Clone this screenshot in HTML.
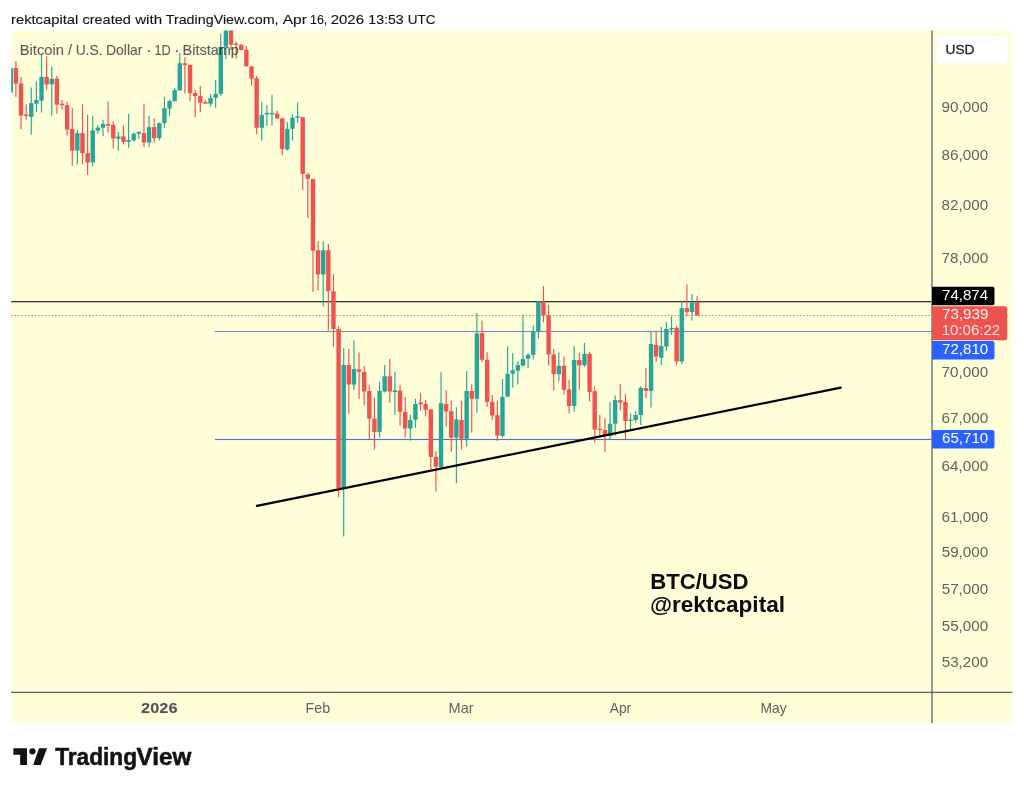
<!DOCTYPE html>
<html lang="en">
<head>
<meta charset="utf-8">
<title>BTC/USD chart - rektcapital - TradingView</title>
<style>
html,body{margin:0;padding:0;background:#fff;}
body{width:1024px;height:791px;position:relative;overflow:hidden;font-family:"Liberation Sans",sans-serif;}
#snapshot{position:absolute;left:0;top:0;width:1024px;height:791px;}
svg{position:absolute;left:0;top:0;display:block;}
text{font-family:"Liberation Sans",sans-serif;}
</style>
</head>
<body>
<div id="snapshot">
<svg width="1024" height="791" viewBox="0 0 1024 791">
<defs>
<clipPath id="pane"><rect x="11.2" y="30.5" width="920.2" height="661.2"/></clipPath>
</defs>
<rect x="0" y="0" width="1024" height="791" fill="#ffffff"/>
<!-- header -->
<text y="24.4" font-size="13.6" fill="#131313" stroke="#131313" stroke-width="0.12"><tspan x="11.02" textLength="67.27" lengthAdjust="spacingAndGlyphs">rektcapital</tspan> <tspan x="82.43" textLength="48.40" lengthAdjust="spacingAndGlyphs">created</tspan> <tspan x="135.17" textLength="26.91" lengthAdjust="spacingAndGlyphs">with</tspan> <tspan x="165.68" textLength="112.88" lengthAdjust="spacingAndGlyphs">TradingView.com,</tspan> <tspan x="282.67" textLength="24.19" lengthAdjust="spacingAndGlyphs">Apr</tspan> <tspan x="310.05" textLength="17.26" lengthAdjust="spacingAndGlyphs">16,</tspan> <tspan x="330.75" textLength="33.21" lengthAdjust="spacingAndGlyphs">2026</tspan> <tspan x="368.32" textLength="35.40" lengthAdjust="spacingAndGlyphs">13:53</tspan> <tspan x="407.65" textLength="27.86" lengthAdjust="spacingAndGlyphs">UTC</tspan></text>
<!-- chart background -->
<rect x="11.2" y="30.5" width="1001.3" height="692.6" fill="#fefed9"/>

<g id="hlines">
<rect x="11.2" y="301.15" width="920.2" height="1.13" fill="#151513"/>
<line x1="11.3" y1="315.45" x2="931" y2="315.45" stroke="#e35a55" stroke-width="1.13" stroke-dasharray="1.2 2.185"/>
<rect x="215" y="330.95" width="716.4" height="1.13" fill="#7788c2"/>
<rect x="215" y="438.93" width="716.4" height="1.13" fill="#4f6fe0"/>
</g>
<g id="candles" clip-path="url(#pane)">
<rect x="8.58" y="68.10" width="4.4" height="24.40" fill="#26a69a"/>
<rect x="15.33" y="61.00" width="1.15" height="35.90" fill="#ef5350"/>
<rect x="13.70" y="68.10" width="4.4" height="15.65" fill="#ef5350"/>
<rect x="20.45" y="76.90" width="1.15" height="52.50" fill="#ef5350"/>
<rect x="18.82" y="83.50" width="4.4" height="32.10" fill="#ef5350"/>
<rect x="25.57" y="104.40" width="1.15" height="15.35" fill="#ef5350"/>
<rect x="23.94" y="114.40" width="4.4" height="1.60" fill="#ef5350"/>
<rect x="30.69" y="87.50" width="1.15" height="47.25" fill="#26a69a"/>
<rect x="29.07" y="103.10" width="4.4" height="13.80" fill="#26a69a"/>
<rect x="35.81" y="81.25" width="1.15" height="30.65" fill="#26a69a"/>
<rect x="34.19" y="100.00" width="4.4" height="3.75" fill="#26a69a"/>
<rect x="40.93" y="54.50" width="1.15" height="58.00" fill="#26a69a"/>
<rect x="39.31" y="76.90" width="4.4" height="23.70" fill="#26a69a"/>
<rect x="46.06" y="56.25" width="1.15" height="33.50" fill="#ef5350"/>
<rect x="44.43" y="76.90" width="4.4" height="7.50" fill="#ef5350"/>
<rect x="51.18" y="66.60" width="1.15" height="49.30" fill="#26a69a"/>
<rect x="49.55" y="78.75" width="4.4" height="5.65" fill="#26a69a"/>
<rect x="56.30" y="76.00" width="1.15" height="37.75" fill="#ef5350"/>
<rect x="54.68" y="78.50" width="4.4" height="26.10" fill="#ef5350"/>
<rect x="61.42" y="100.00" width="1.15" height="9.75" fill="#ef5350"/>
<rect x="59.80" y="103.75" width="4.4" height="1.45" fill="#ef5350"/>
<rect x="66.55" y="101.90" width="1.15" height="33.70" fill="#ef5350"/>
<rect x="64.92" y="105.00" width="4.4" height="24.60" fill="#ef5350"/>
<rect x="71.67" y="107.75" width="1.15" height="58.15" fill="#ef5350"/>
<rect x="70.04" y="129.00" width="4.4" height="21.60" fill="#ef5350"/>
<rect x="76.79" y="129.60" width="1.15" height="34.80" fill="#26a69a"/>
<rect x="75.16" y="133.10" width="4.4" height="17.50" fill="#26a69a"/>
<rect x="81.91" y="104.00" width="1.15" height="60.40" fill="#ef5350"/>
<rect x="80.29" y="133.10" width="4.4" height="20.00" fill="#ef5350"/>
<rect x="87.03" y="114.70" width="1.15" height="60.30" fill="#ef5350"/>
<rect x="85.41" y="153.10" width="4.4" height="9.40" fill="#ef5350"/>
<rect x="92.16" y="115.70" width="1.15" height="50.55" fill="#26a69a"/>
<rect x="90.53" y="130.30" width="4.4" height="32.20" fill="#26a69a"/>
<rect x="97.28" y="125.00" width="1.15" height="9.00" fill="#26a69a"/>
<rect x="95.65" y="127.50" width="4.4" height="3.10" fill="#26a69a"/>
<rect x="102.40" y="119.75" width="1.15" height="16.50" fill="#26a69a"/>
<rect x="100.77" y="124.00" width="4.4" height="3.75" fill="#26a69a"/>
<rect x="107.52" y="101.50" width="1.15" height="31.25" fill="#ef5350"/>
<rect x="105.90" y="124.00" width="4.4" height="1.60" fill="#ef5350"/>
<rect x="112.64" y="121.25" width="1.15" height="27.25" fill="#ef5350"/>
<rect x="111.02" y="124.90" width="4.4" height="13.60" fill="#ef5350"/>
<rect x="117.77" y="132.00" width="1.15" height="18.60" fill="#26a69a"/>
<rect x="116.14" y="136.50" width="4.4" height="2.25" fill="#26a69a"/>
<rect x="122.89" y="125.10" width="1.15" height="19.40" fill="#ef5350"/>
<rect x="121.26" y="136.40" width="4.4" height="5.50" fill="#ef5350"/>
<rect x="128.01" y="114.00" width="1.15" height="33.75" fill="#26a69a"/>
<rect x="126.38" y="140.00" width="4.4" height="1.90" fill="#26a69a"/>
<rect x="133.13" y="132.50" width="1.15" height="8.90" fill="#26a69a"/>
<rect x="131.51" y="133.75" width="4.4" height="6.55" fill="#26a69a"/>
<rect x="138.25" y="131.25" width="1.15" height="7.50" fill="#26a69a"/>
<rect x="136.63" y="131.90" width="4.4" height="1.85" fill="#26a69a"/>
<rect x="143.38" y="104.00" width="1.15" height="42.90" fill="#ef5350"/>
<rect x="141.75" y="133.10" width="4.4" height="9.40" fill="#ef5350"/>
<rect x="148.50" y="115.60" width="1.15" height="31.30" fill="#26a69a"/>
<rect x="146.87" y="127.10" width="4.4" height="15.40" fill="#26a69a"/>
<rect x="153.62" y="118.10" width="1.15" height="24.40" fill="#ef5350"/>
<rect x="151.99" y="127.10" width="4.4" height="11.00" fill="#ef5350"/>
<rect x="158.74" y="122.50" width="1.15" height="17.75" fill="#26a69a"/>
<rect x="157.12" y="123.10" width="4.4" height="15.00" fill="#26a69a"/>
<rect x="163.86" y="96.90" width="1.15" height="30.85" fill="#26a69a"/>
<rect x="162.24" y="108.10" width="4.4" height="15.00" fill="#26a69a"/>
<rect x="168.99" y="99.75" width="1.15" height="16.25" fill="#26a69a"/>
<rect x="167.36" y="101.00" width="4.4" height="7.50" fill="#26a69a"/>
<rect x="174.11" y="87.90" width="1.15" height="13.35" fill="#26a69a"/>
<rect x="172.48" y="90.00" width="4.4" height="11.25" fill="#26a69a"/>
<rect x="179.23" y="53.00" width="1.15" height="37.50" fill="#26a69a"/>
<rect x="177.60" y="63.25" width="4.4" height="27.25" fill="#26a69a"/>
<rect x="184.35" y="57.00" width="1.15" height="36.40" fill="#ef5350"/>
<rect x="182.73" y="63.25" width="4.4" height="1.85" fill="#ef5350"/>
<rect x="189.47" y="64.90" width="1.15" height="36.50" fill="#ef5350"/>
<rect x="187.85" y="64.90" width="4.4" height="28.30" fill="#ef5350"/>
<rect x="194.59" y="89.80" width="1.15" height="27.30" fill="#ef5350"/>
<rect x="192.97" y="93.00" width="4.4" height="3.10" fill="#ef5350"/>
<rect x="199.72" y="85.80" width="1.15" height="26.20" fill="#ef5350"/>
<rect x="198.09" y="96.10" width="4.4" height="6.50" fill="#ef5350"/>
<rect x="204.84" y="100.10" width="1.15" height="3.60" fill="#ef5350"/>
<rect x="203.21" y="102.10" width="4.4" height="1.60" fill="#ef5350"/>
<rect x="209.96" y="94.10" width="1.15" height="12.40" fill="#26a69a"/>
<rect x="208.34" y="98.00" width="4.4" height="5.70" fill="#26a69a"/>
<rect x="215.08" y="80.00" width="1.15" height="27.70" fill="#26a69a"/>
<rect x="213.46" y="93.70" width="4.4" height="4.05" fill="#26a69a"/>
<rect x="220.21" y="34.10" width="1.15" height="62.10" fill="#26a69a"/>
<rect x="218.58" y="47.00" width="4.4" height="46.80" fill="#26a69a"/>
<rect x="225.33" y="20.00" width="1.15" height="38.80" fill="#26a69a"/>
<rect x="223.70" y="20.00" width="4.4" height="26.60" fill="#26a69a"/>
<rect x="230.45" y="20.00" width="1.15" height="30.00" fill="#ef5350"/>
<rect x="228.82" y="20.00" width="4.4" height="24.60" fill="#ef5350"/>
<rect x="235.57" y="41.90" width="1.15" height="16.90" fill="#ef5350"/>
<rect x="233.95" y="43.70" width="4.4" height="1.20" fill="#ef5350"/>
<rect x="240.69" y="44.00" width="1.15" height="6.50" fill="#ef5350"/>
<rect x="239.07" y="44.80" width="4.4" height="5.20" fill="#ef5350"/>
<rect x="245.82" y="45.90" width="1.15" height="20.40" fill="#ef5350"/>
<rect x="244.19" y="49.75" width="4.4" height="16.55" fill="#ef5350"/>
<rect x="250.94" y="66.30" width="1.15" height="19.20" fill="#ef5350"/>
<rect x="249.31" y="66.30" width="4.4" height="12.30" fill="#ef5350"/>
<rect x="256.06" y="75.90" width="1.15" height="58.10" fill="#ef5350"/>
<rect x="254.43" y="78.20" width="4.4" height="49.55" fill="#ef5350"/>
<rect x="261.18" y="102.00" width="1.15" height="38.60" fill="#26a69a"/>
<rect x="259.56" y="115.00" width="4.4" height="12.75" fill="#26a69a"/>
<rect x="266.30" y="105.00" width="1.15" height="21.00" fill="#26a69a"/>
<rect x="264.68" y="112.90" width="4.4" height="1.50" fill="#26a69a"/>
<rect x="271.43" y="94.80" width="1.15" height="30.80" fill="#26a69a"/>
<rect x="269.80" y="112.90" width="4.4" height="1.50" fill="#26a69a"/>
<rect x="276.55" y="110.50" width="1.15" height="8.00" fill="#ef5350"/>
<rect x="274.92" y="113.70" width="4.4" height="4.80" fill="#ef5350"/>
<rect x="281.67" y="117.20" width="1.15" height="38.20" fill="#ef5350"/>
<rect x="280.04" y="118.50" width="4.4" height="30.50" fill="#ef5350"/>
<rect x="286.79" y="122.30" width="1.15" height="28.30" fill="#26a69a"/>
<rect x="285.17" y="128.75" width="4.4" height="20.65" fill="#26a69a"/>
<rect x="291.91" y="114.40" width="1.15" height="26.20" fill="#26a69a"/>
<rect x="290.29" y="117.75" width="4.4" height="11.00" fill="#26a69a"/>
<rect x="297.03" y="102.50" width="1.15" height="20.25" fill="#26a69a"/>
<rect x="295.41" y="116.25" width="4.4" height="1.50" fill="#26a69a"/>
<rect x="302.16" y="117.10" width="1.15" height="72.65" fill="#ef5350"/>
<rect x="300.53" y="117.10" width="4.4" height="56.90" fill="#ef5350"/>
<rect x="307.28" y="173.10" width="1.15" height="45.00" fill="#ef5350"/>
<rect x="305.65" y="174.40" width="4.4" height="4.35" fill="#ef5350"/>
<rect x="312.40" y="179.00" width="1.15" height="112.90" fill="#ef5350"/>
<rect x="310.78" y="179.00" width="4.4" height="71.70" fill="#ef5350"/>
<rect x="317.52" y="241.00" width="1.15" height="49.60" fill="#ef5350"/>
<rect x="315.90" y="250.25" width="4.4" height="24.15" fill="#ef5350"/>
<rect x="322.64" y="241.40" width="1.15" height="65.10" fill="#26a69a"/>
<rect x="321.02" y="250.25" width="4.4" height="24.15" fill="#26a69a"/>
<rect x="327.77" y="243.75" width="1.15" height="86.65" fill="#ef5350"/>
<rect x="326.14" y="250.25" width="4.4" height="41.00" fill="#ef5350"/>
<rect x="332.89" y="274.10" width="1.15" height="72.80" fill="#ef5350"/>
<rect x="331.26" y="291.25" width="4.4" height="37.75" fill="#ef5350"/>
<rect x="338.01" y="326.10" width="1.15" height="171.10" fill="#ef5350"/>
<rect x="336.39" y="329.00" width="4.4" height="159.10" fill="#ef5350"/>
<rect x="343.13" y="348.10" width="1.15" height="188.40" fill="#26a69a"/>
<rect x="341.51" y="365.00" width="4.4" height="123.50" fill="#26a69a"/>
<rect x="348.25" y="348.75" width="1.15" height="64.75" fill="#ef5350"/>
<rect x="346.63" y="365.00" width="4.4" height="19.60" fill="#ef5350"/>
<rect x="353.38" y="340.60" width="1.15" height="49.40" fill="#26a69a"/>
<rect x="351.75" y="369.00" width="4.4" height="15.60" fill="#26a69a"/>
<rect x="358.50" y="352.50" width="1.15" height="46.50" fill="#ef5350"/>
<rect x="356.87" y="369.40" width="4.4" height="2.50" fill="#ef5350"/>
<rect x="363.62" y="366.00" width="1.15" height="39.60" fill="#ef5350"/>
<rect x="362.00" y="371.90" width="4.4" height="19.60" fill="#ef5350"/>
<rect x="368.74" y="384.75" width="1.15" height="54.25" fill="#ef5350"/>
<rect x="367.12" y="391.00" width="4.4" height="27.75" fill="#ef5350"/>
<rect x="373.86" y="397.75" width="1.15" height="51.65" fill="#ef5350"/>
<rect x="372.24" y="418.75" width="4.4" height="13.15" fill="#ef5350"/>
<rect x="378.99" y="381.90" width="1.15" height="55.60" fill="#26a69a"/>
<rect x="377.36" y="391.00" width="4.4" height="40.90" fill="#26a69a"/>
<rect x="384.11" y="365.00" width="1.15" height="27.50" fill="#26a69a"/>
<rect x="382.48" y="376.25" width="4.4" height="15.25" fill="#26a69a"/>
<rect x="389.23" y="358.75" width="1.15" height="44.00" fill="#ef5350"/>
<rect x="387.61" y="376.25" width="4.4" height="15.25" fill="#ef5350"/>
<rect x="394.35" y="371.60" width="1.15" height="43.15" fill="#26a69a"/>
<rect x="392.73" y="390.25" width="4.4" height="1.85" fill="#26a69a"/>
<rect x="399.47" y="384.75" width="1.15" height="40.85" fill="#ef5350"/>
<rect x="397.85" y="390.60" width="4.4" height="21.30" fill="#ef5350"/>
<rect x="404.60" y="397.10" width="1.15" height="40.40" fill="#ef5350"/>
<rect x="402.97" y="411.90" width="4.4" height="16.60" fill="#ef5350"/>
<rect x="409.72" y="414.70" width="1.15" height="25.90" fill="#26a69a"/>
<rect x="408.09" y="420.00" width="4.4" height="8.50" fill="#26a69a"/>
<rect x="414.84" y="398.75" width="1.15" height="29.00" fill="#26a69a"/>
<rect x="413.22" y="404.00" width="4.4" height="15.75" fill="#26a69a"/>
<rect x="419.96" y="393.10" width="1.15" height="17.70" fill="#ef5350"/>
<rect x="418.34" y="402.50" width="4.4" height="1.90" fill="#ef5350"/>
<rect x="425.08" y="400.00" width="1.15" height="16.50" fill="#ef5350"/>
<rect x="423.46" y="403.90" width="4.4" height="5.85" fill="#ef5350"/>
<rect x="430.21" y="409.40" width="1.15" height="59.80" fill="#ef5350"/>
<rect x="428.58" y="409.40" width="4.4" height="47.50" fill="#ef5350"/>
<rect x="435.33" y="451.25" width="1.15" height="40.25" fill="#ef5350"/>
<rect x="433.70" y="456.90" width="4.4" height="9.70" fill="#ef5350"/>
<rect x="440.45" y="372.10" width="1.15" height="96.00" fill="#26a69a"/>
<rect x="438.83" y="403.10" width="4.4" height="64.10" fill="#26a69a"/>
<rect x="445.57" y="390.10" width="1.15" height="36.40" fill="#ef5350"/>
<rect x="443.95" y="404.00" width="4.4" height="7.50" fill="#ef5350"/>
<rect x="450.69" y="400.60" width="1.15" height="51.50" fill="#ef5350"/>
<rect x="449.07" y="411.25" width="4.4" height="26.50" fill="#ef5350"/>
<rect x="455.82" y="407.25" width="1.15" height="75.85" fill="#26a69a"/>
<rect x="454.19" y="419.40" width="4.4" height="18.35" fill="#26a69a"/>
<rect x="460.94" y="400.60" width="1.15" height="49.00" fill="#ef5350"/>
<rect x="459.31" y="420.00" width="4.4" height="18.75" fill="#ef5350"/>
<rect x="466.06" y="371.00" width="1.15" height="75.50" fill="#26a69a"/>
<rect x="464.44" y="391.00" width="4.4" height="47.75" fill="#26a69a"/>
<rect x="471.18" y="384.20" width="1.15" height="48.30" fill="#ef5350"/>
<rect x="469.56" y="391.00" width="4.4" height="7.75" fill="#ef5350"/>
<rect x="476.31" y="313.10" width="1.15" height="99.65" fill="#26a69a"/>
<rect x="474.68" y="333.50" width="4.4" height="65.25" fill="#26a69a"/>
<rect x="481.43" y="320.60" width="1.15" height="41.65" fill="#ef5350"/>
<rect x="479.80" y="333.10" width="4.4" height="26.65" fill="#ef5350"/>
<rect x="486.55" y="352.25" width="1.15" height="54.65" fill="#ef5350"/>
<rect x="484.92" y="359.75" width="4.4" height="42.15" fill="#ef5350"/>
<rect x="491.67" y="395.00" width="1.15" height="25.00" fill="#ef5350"/>
<rect x="490.05" y="401.90" width="4.4" height="13.70" fill="#ef5350"/>
<rect x="496.79" y="400.60" width="1.15" height="40.30" fill="#ef5350"/>
<rect x="495.17" y="415.25" width="4.4" height="20.35" fill="#ef5350"/>
<rect x="501.91" y="379.00" width="1.15" height="58.50" fill="#26a69a"/>
<rect x="500.29" y="396.90" width="4.4" height="39.00" fill="#26a69a"/>
<rect x="507.04" y="346.25" width="1.15" height="50.45" fill="#26a69a"/>
<rect x="505.41" y="373.75" width="4.4" height="22.95" fill="#26a69a"/>
<rect x="512.16" y="353.10" width="1.15" height="34.50" fill="#26a69a"/>
<rect x="510.53" y="370.25" width="4.4" height="3.50" fill="#26a69a"/>
<rect x="517.28" y="361.25" width="1.15" height="23.25" fill="#26a69a"/>
<rect x="515.66" y="365.00" width="4.4" height="5.60" fill="#26a69a"/>
<rect x="522.40" y="315.00" width="1.15" height="51.25" fill="#26a69a"/>
<rect x="520.78" y="359.00" width="4.4" height="6.60" fill="#26a69a"/>
<rect x="527.52" y="353.10" width="1.15" height="15.00" fill="#26a69a"/>
<rect x="525.90" y="354.75" width="4.4" height="4.00" fill="#26a69a"/>
<rect x="532.65" y="325.60" width="1.15" height="33.80" fill="#26a69a"/>
<rect x="531.02" y="331.90" width="4.4" height="23.00" fill="#26a69a"/>
<rect x="537.77" y="301.50" width="1.15" height="37.10" fill="#26a69a"/>
<rect x="536.14" y="301.50" width="4.4" height="30.40" fill="#26a69a"/>
<rect x="542.89" y="286.00" width="1.15" height="36.50" fill="#ef5350"/>
<rect x="541.27" y="301.50" width="4.4" height="14.10" fill="#ef5350"/>
<rect x="548.01" y="304.75" width="1.15" height="60.65" fill="#ef5350"/>
<rect x="546.39" y="315.40" width="4.4" height="39.10" fill="#ef5350"/>
<rect x="553.13" y="349.00" width="1.15" height="41.60" fill="#ef5350"/>
<rect x="551.51" y="354.40" width="4.4" height="19.80" fill="#ef5350"/>
<rect x="558.26" y="352.50" width="1.15" height="29.10" fill="#26a69a"/>
<rect x="556.63" y="365.80" width="4.4" height="8.40" fill="#26a69a"/>
<rect x="563.38" y="356.50" width="1.15" height="38.25" fill="#ef5350"/>
<rect x="561.75" y="365.80" width="4.4" height="23.95" fill="#ef5350"/>
<rect x="568.50" y="379.75" width="1.15" height="33.75" fill="#ef5350"/>
<rect x="566.88" y="389.40" width="4.4" height="16.60" fill="#ef5350"/>
<rect x="573.62" y="346.25" width="1.15" height="65.65" fill="#26a69a"/>
<rect x="572.00" y="360.00" width="4.4" height="46.00" fill="#26a69a"/>
<rect x="578.74" y="352.75" width="1.15" height="37.00" fill="#ef5350"/>
<rect x="577.12" y="360.00" width="4.4" height="5.40" fill="#ef5350"/>
<rect x="583.87" y="343.10" width="1.15" height="23.80" fill="#26a69a"/>
<rect x="582.24" y="354.00" width="4.4" height="11.10" fill="#26a69a"/>
<rect x="588.99" y="351.90" width="1.15" height="49.60" fill="#ef5350"/>
<rect x="587.36" y="353.75" width="4.4" height="38.15" fill="#ef5350"/>
<rect x="594.11" y="386.25" width="1.15" height="56.25" fill="#ef5350"/>
<rect x="592.49" y="391.25" width="4.4" height="38.35" fill="#ef5350"/>
<rect x="599.23" y="415.00" width="1.15" height="21.90" fill="#ef5350"/>
<rect x="597.61" y="428.75" width="4.4" height="1.25" fill="#ef5350"/>
<rect x="604.35" y="418.10" width="1.15" height="33.80" fill="#ef5350"/>
<rect x="602.73" y="430.00" width="4.4" height="6.25" fill="#ef5350"/>
<rect x="609.48" y="401.90" width="1.15" height="37.10" fill="#26a69a"/>
<rect x="607.85" y="423.75" width="4.4" height="12.25" fill="#26a69a"/>
<rect x="614.60" y="395.60" width="1.15" height="40.00" fill="#26a69a"/>
<rect x="612.97" y="400.00" width="4.4" height="23.75" fill="#26a69a"/>
<rect x="619.72" y="384.00" width="1.15" height="26.60" fill="#ef5350"/>
<rect x="618.10" y="400.25" width="4.4" height="2.25" fill="#ef5350"/>
<rect x="624.84" y="393.75" width="1.15" height="46.00" fill="#ef5350"/>
<rect x="623.22" y="401.90" width="4.4" height="19.10" fill="#ef5350"/>
<rect x="629.96" y="413.50" width="1.15" height="17.10" fill="#26a69a"/>
<rect x="628.34" y="419.60" width="4.4" height="1.30" fill="#26a69a"/>
<rect x="635.09" y="410.90" width="1.15" height="11.60" fill="#26a69a"/>
<rect x="633.46" y="415.00" width="4.4" height="5.00" fill="#26a69a"/>
<rect x="640.21" y="386.25" width="1.15" height="38.75" fill="#26a69a"/>
<rect x="638.58" y="387.75" width="4.4" height="27.25" fill="#26a69a"/>
<rect x="645.33" y="367.80" width="1.15" height="30.30" fill="#ef5350"/>
<rect x="643.71" y="388.10" width="4.4" height="2.80" fill="#ef5350"/>
<rect x="650.45" y="331.25" width="1.15" height="76.25" fill="#26a69a"/>
<rect x="648.83" y="344.00" width="4.4" height="47.00" fill="#26a69a"/>
<rect x="655.57" y="330.60" width="1.15" height="31.30" fill="#ef5350"/>
<rect x="653.95" y="345.00" width="4.4" height="11.50" fill="#ef5350"/>
<rect x="660.70" y="326.90" width="1.15" height="38.40" fill="#26a69a"/>
<rect x="659.07" y="346.00" width="4.4" height="11.60" fill="#26a69a"/>
<rect x="665.82" y="322.10" width="1.15" height="28.80" fill="#26a69a"/>
<rect x="664.19" y="329.00" width="4.4" height="17.50" fill="#26a69a"/>
<rect x="670.94" y="316.60" width="1.15" height="18.15" fill="#26a69a"/>
<rect x="669.32" y="327.90" width="4.4" height="1.50" fill="#26a69a"/>
<rect x="676.06" y="326.00" width="1.15" height="38.60" fill="#ef5350"/>
<rect x="674.44" y="327.90" width="4.4" height="33.60" fill="#ef5350"/>
<rect x="681.18" y="301.25" width="1.15" height="62.75" fill="#26a69a"/>
<rect x="679.56" y="308.10" width="4.4" height="53.40" fill="#26a69a"/>
<rect x="686.31" y="284.40" width="1.15" height="31.85" fill="#ef5350"/>
<rect x="684.68" y="308.10" width="4.4" height="4.00" fill="#ef5350"/>
<rect x="691.43" y="294.00" width="1.15" height="26.60" fill="#26a69a"/>
<rect x="689.80" y="302.50" width="4.4" height="9.60" fill="#26a69a"/>
<rect x="696.55" y="296.25" width="1.15" height="19.35" fill="#ef5350"/>
<rect x="694.93" y="302.25" width="4.4" height="13.35" fill="#ef5350"/>
</g>
<line x1="256.9" y1="505.9" x2="840.8" y2="387.6" stroke="#000" stroke-width="2.2" stroke-linecap="round"/>
<text opacity="0.7" y="54.7" font-size="13.9" fill="#131722" stroke="#131722" stroke-width="0.12"><tspan x="19.79" textLength="44.16" lengthAdjust="spacingAndGlyphs">Bitcoin</tspan> <tspan x="68.10" textLength="4.10" lengthAdjust="spacingAndGlyphs">/</tspan> <tspan x="75.63" textLength="26.93" lengthAdjust="spacingAndGlyphs">U.S.</tspan> <tspan x="106.06" textLength="36.37" lengthAdjust="spacingAndGlyphs">Dollar</tspan> <tspan x="145.66" textLength="6.30" lengthAdjust="spacingAndGlyphs">·</tspan> <tspan x="154.43" textLength="16.28" lengthAdjust="spacingAndGlyphs">1D</tspan> <tspan x="173.86" textLength="6.30" lengthAdjust="spacingAndGlyphs">·</tspan> <tspan x="182.61" textLength="56.29" lengthAdjust="spacingAndGlyphs">Bitstamp</tspan></text>
<rect x="931.43" y="30.5" width="1.13" height="692.6" fill="#4f525e"/>
<rect x="11.2" y="691.75" width="1001.3" height="1.13" fill="#4f525e"/>
<rect x="936.0" y="35.2" width="72.1" height="28.7" rx="4" ry="4" fill="#ffffff" stroke="#f5f5e4" stroke-width="0.8"/>
<text x="945.54" y="53.95" font-size="13.6" fill="#1b1b20" textLength="29.02" lengthAdjust="spacingAndGlyphs" stroke="#1b1b20" stroke-width="0.3">USD</text>
<text x="941.59" y="111.7" font-size="14.1" fill="#62625d" textLength="46.61" lengthAdjust="spacingAndGlyphs">90,000</text>
<text x="941.64" y="159.7" font-size="14.1" fill="#62625d" textLength="46.56" lengthAdjust="spacingAndGlyphs">86,000</text>
<text x="941.64" y="209.9" font-size="14.1" fill="#62625d" textLength="46.56" lengthAdjust="spacingAndGlyphs">82,000</text>
<text x="941.52" y="262.7" font-size="14.1" fill="#62625d" textLength="46.68" lengthAdjust="spacingAndGlyphs">78,000</text>
<text x="941.52" y="376.9" font-size="14.1" fill="#62625d" textLength="46.68" lengthAdjust="spacingAndGlyphs">70,000</text>
<text x="941.53" y="423.1" font-size="14.1" fill="#62625d" textLength="46.67" lengthAdjust="spacingAndGlyphs">67,000</text>
<text x="941.53" y="471.4" font-size="14.1" fill="#62625d" textLength="46.67" lengthAdjust="spacingAndGlyphs">64,000</text>
<text x="941.53" y="522.1" font-size="14.1" fill="#62625d" textLength="46.67" lengthAdjust="spacingAndGlyphs">61,000</text>
<text x="941.69" y="557.3" font-size="14.1" fill="#62625d" textLength="46.50" lengthAdjust="spacingAndGlyphs">59,000</text>
<text x="941.69" y="593.7" font-size="14.1" fill="#62625d" textLength="46.50" lengthAdjust="spacingAndGlyphs">57,000</text>
<text x="941.69" y="631.3" font-size="14.1" fill="#62625d" textLength="46.50" lengthAdjust="spacingAndGlyphs">55,000</text>
<text x="941.69" y="666.5" font-size="14.1" fill="#62625d" textLength="46.50" lengthAdjust="spacingAndGlyphs">53,200</text>
<path d="M932 286.8H992.3a2.2 2.2 0 0 1 2.2 2.2V303a2.2 2.2 0 0 1 -2.2 2.2H932Z" fill="#000"/>
<text x="942.03" y="299.5" font-size="14.1" fill="#fff" textLength="46.11" lengthAdjust="spacingAndGlyphs">74,874</text>
<path d="M932 306.2H1005a2.2 2.2 0 0 1 2.2 2.2V338a2.2 2.2 0 0 1 -2.2 2.2H932Z" fill="#ef5350"/>
<text x="942.02" y="318.9" font-size="14.1" fill="#fff" textLength="46.40" lengthAdjust="spacingAndGlyphs" fill-opacity="0.92">73,939</text>
<text x="941.66" y="334.6" font-size="14.1" fill="#fff" textLength="58.50" lengthAdjust="spacingAndGlyphs" fill-opacity="0.85">10:06:22</text>
<path d="M932 340.9H992.3a2.2 2.2 0 0 1 2.2 2.2V357.4a2.2 2.2 0 0 1 -2.2 2.2H932Z" fill="#2962ff"/>
<text x="942.02" y="353.8" font-size="14.1" fill="#fff" textLength="46.27" lengthAdjust="spacingAndGlyphs">72,810</text>
<path d="M932 429.9H992.3a2.2 2.2 0 0 1 2.2 2.2V446.4a2.2 2.2 0 0 1 -2.2 2.2H932Z" fill="#2962ff"/>
<text x="942.03" y="443" font-size="14.1" fill="#fff" textLength="46.26" lengthAdjust="spacingAndGlyphs">65,710</text>
<text x="141.13" y="713.15" font-size="14.1" fill="#4d505b" font-weight="bold" textLength="36.36" lengthAdjust="spacingAndGlyphs">2026</text>
<text x="305.53" y="713.1" font-size="14.1" fill="#62625d" textLength="24.57" lengthAdjust="spacingAndGlyphs">Feb</text>
<text x="448.50" y="713.1" font-size="14.1" fill="#62625d" textLength="25.14" lengthAdjust="spacingAndGlyphs">Mar</text>
<text x="609.67" y="713.1" font-size="14.1" fill="#62625d" textLength="21.56" lengthAdjust="spacingAndGlyphs">Apr</text>
<text x="760.45" y="713.1" font-size="14.1" fill="#62625d" textLength="26.37" lengthAdjust="spacingAndGlyphs">May</text>
<text x="650.22" y="589.4" font-size="22.1" fill="#0b0b0b" font-weight="bold" textLength="98.36" lengthAdjust="spacingAndGlyphs">BTC/USD</text>
<text x="650.01" y="612.4" font-size="22.1" fill="#0b0b0b" font-weight="bold" textLength="134.99" lengthAdjust="spacingAndGlyphs">@rektcapital</text>
<g id="tvlogo" fill="#131313">
<path d="M13.4 748.3H27V764.9H20.2V754.65H13.4Z"/><circle cx="32.4" cy="751.3" r="3.15"/><path d="M39.05 748.3H47.1L40.7 764.9H33.2Z"/>
<text y="764.8" font-size="24.0" fill="#131313" stroke="#131313" stroke-width="0.55" font-weight="bold"><tspan x="55.15" textLength="81.95" lengthAdjust="spacingAndGlyphs">Trading</tspan><tspan x="136.44" textLength="54.82" lengthAdjust="spacingAndGlyphs">View</tspan></text>
</g>
</svg>
</div>
</body>
</html>
